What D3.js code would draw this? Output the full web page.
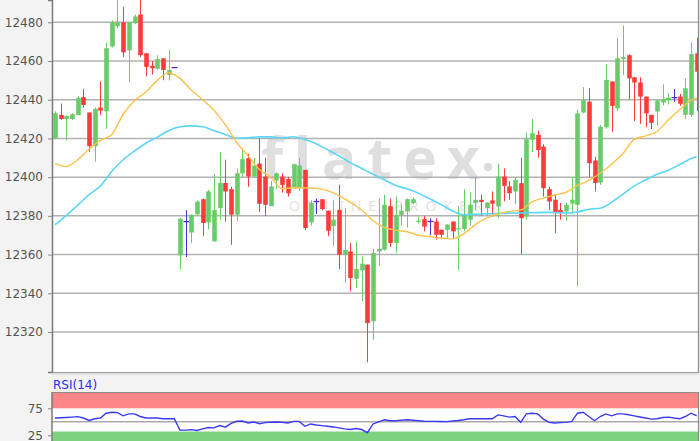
<!DOCTYPE html>
<html><head><meta charset="utf-8">
<script src="https://cdn.jsdelivr.net/npm/d3@7"></script>
<style>html,body{margin:0;padding:0;background:#f3f3f3;overflow:hidden}svg{display:block}</style>
</head><body>
<svg id="c" width="700" height="441"></svg>
<script>
// ---------- data ----------
const opens = [12420,12432.2,12430,12430,12432,12441.3,12433.4,12416,12436,12434,
12467.5,12478,12480,12465.5,12479.5,12484,12464,12457.5,12456,12461.4,
12452.8,12456.6,12359.6,12377,12371.4,12380.8,12388.6,12376.6,12366.8,12384,
12397,12393.8,12380.6,12402,12409.8,12400.3,12407,12400.3,12385,12398.3,
12400.3,12399,12394.3,12394.6,12403.8,12376.6,12387.4,12388.6,12382.6,12374.7,
12383.1,12359.9,12361.6,12347.5,12351.8,12354.8,12325.5,12361.6,12362.5,12385,
12366,12380.5,12382.3,12386.6,12377.1,12378.3,12377.1,12377.1,12372.8,12372.8,
12377.1,12373,12373.2,12378,12386.6,12388.3,12384,12388,12384.9,12400.3,
12395.2,12392.6,12396.9,12379.7,12419.3,12421.8,12415.8,12393.8,12388.3,12383,
12382.3,12386.3,12385.7,12433.4,12439,12408.6,12397.2,12425.8,12449.4,12435.6,
12461,12463,12451.6,12448.9,12441.6,12432.2,12433.9,12438.6,12439.8,12441.1,
12441.6,12432.2,12432.2,12464];
const highs = [12434,12438,12432,12433,12442,12445.5,12433.4,12436,12449.5,12469.5,
12481,12492,12488,12480,12484,12492,12464,12460,12463,12461.4,
12465.7,12456.6,12379,12383,12380.6,12388,12389,12393.5,12401.7,12413,
12409,12395,12404.5,12415,12412,12410,12420,12410,12398,12402.5,
12402,12400,12407,12410,12403.8,12388,12389,12388.6,12382.6,12388,
12396,12384,12366,12366.6,12359,12354.8,12363,12389,12391,12389,
12390,12386,12389,12389.5,12379.7,12380,12378.8,12378.8,12373,12375.5,
12377.1,12385.2,12393.6,12392,12400,12391,12387,12392.6,12407,12404.5,
12398,12400,12410,12423,12430,12424,12417,12395,12391,12386.7,
12387,12400,12435,12446.5,12446,12410.6,12427,12458.4,12449.4,12472,
12478.4,12463.5,12451.6,12451.6,12441.6,12432.2,12440,12448,12443.5,12445.5,
12443,12451,12469.5,12472];
const lows = [12419.5,12429.6,12419,12429.5,12432,12436,12413,12408,12432,12425,
12467,12477,12462,12449,12479,12462,12452,12453,12455.5,12450,
12450,12456.6,12352.5,12358.7,12366,12380,12369.5,12373,12366.8,12378,
12377,12365,12377.5,12400,12395,12400,12382,12380,12385,12394,
12392,12390,12394,12393,12372.5,12375,12381,12383,12369.5,12364.6,
12352.5,12345.5,12341,12342.7,12336,12304.3,12316,12354,12362,12364,
12361,12375,12374,12386,12376,12372,12370,12367.8,12368.5,12368.5,
12368,12352.2,12372,12375,12383,12380,12380,12379.7,12379,12387.5,
12388.3,12386,12360.3,12378,12413,12410,12390,12383,12371,12378,
12377.5,12381,12343.6,12433,12400,12392.6,12396,12425,12423.5,12434,
12452.8,12440.3,12429,12427.5,12425.8,12424.8,12426.5,12437,12437.5,12439,
12436.8,12430,12431,12434.2];
const closes = [12433,12430,12431.5,12432.5,12441,12437.3,12416,12435.3,12434.4,12466.6,
12480,12480.2,12464.5,12480,12483,12463,12457,12456.3,12461,12455.4,
12455.4,12456.6,12378.5,12377,12380.6,12387.4,12376.3,12392.6,12383,12397,
12392.6,12380.6,12402,12409.3,12400.3,12406,12386.2,12385.7,12395.2,12402,
12396,12391.7,12406.7,12406,12373.7,12386.6,12387.4,12383.5,12372.3,12378,
12359.9,12362.4,12347.9,12352.5,12355.3,12324.6,12360.8,12363,12385.7,12366,
12380.5,12382.6,12388.6,12388.6,12377.5,12374.5,12377.1,12370.2,12370.2,12375.5,
12372,12373.6,12380.6,12385.7,12388.3,12387.2,12386.9,12386.3,12400.3,12395.5,
12391.7,12398.6,12378.8,12419.6,12422.7,12414,12394.3,12387.4,12381.4,12381.4,
12385.7,12388.3,12433,12439.8,12407.2,12397,12426.1,12450.2,12436.8,12461.4,
12462,12451,12448.9,12441.6,12433,12428,12439.6,12440.3,12441,12441.1,
12437.9,12445.9,12463.6,12454.5];

// moving averages, sampled at these candle indices
const maIndex = [0,2,4,6,8,10,12,14,16,18,20,22,24,26,28,30,32,34,36,38,40,42,44,46,48,50,52,54,56,58,
60,62,64,66,68,70,72,74,76,78,80,82,84,86,88,90,92,94,96,98,100,102,104,106,108,110,112,113];
const maFast = [12407,12405.5,12409,12414.5,12419,12422,12432.5,12439.5,12444,12450,
12454,12451,12445,12440,12434.5,12427,12418,12411,12404,12400,
12394,12394.5,12394.4,12394.2,12393,12390.5,12387,12383,12377.5,12374,
12372.5,12371.8,12370,12369.3,12368.5,12368.1,12370.8,12375.5,12378.8,12381,
12382.3,12383,12387.2,12389.2,12390.8,12392.2,12395.7,12398.3,12402,12406.7,
12412.2,12419.5,12421.3,12423.6,12429.5,12434.8,12439.7,12440.8];
const maSlow = [12375.3,12380.2,12385.5,12391,12395.5,12403,12409,12413.5,12417.5,12420.7,
12424,12426,12426.5,12426,12424,12422,12420.1,12420.3,12420.8,12420.8,
12420.2,12420.9,12419.5,12417.3,12414.2,12411,12407.5,12404.5,12401.5,12398.7,
12395.7,12394,12391.7,12388.8,12385.8,12382.5,12380.6,12380.8,12381.1,12381.2,
12381.4,12381.5,12381.6,12381.8,12381.7,12381.5,12382,12383.4,12383.9,12387,
12391.2,12395.5,12398.5,12401.5,12403.6,12406.5,12409.6,12410.7];

const rsiValues = [57,57.5,58,58.7,59.5,57,52.5,55.6,57,65.9,
67.7,67,61,64.6,64.6,59.8,57,57,56.9,55.6,
55.6,55.6,34.5,34.5,35.5,34,37,39.5,38.8,43,
40,47,51,51.5,47.8,49.6,46.5,48.5,49.3,49.6,
49,47.8,50.7,50.7,41.7,46,44,43,41.7,40.5,
38.8,37,35.7,37.5,35.7,29.8,46,50,53.8,52,
52,53,53.8,53,52,51,50.7,50.7,50.5,50.4,
51.5,52.5,53.8,55.6,55.6,55.6,55.6,55.6,62.8,61,
58.7,59.8,49,64.6,65.9,64.6,55,49,47.8,48.5,
49,50.7,65.9,67.7,59.8,52,59.8,64.6,61,64.6,
64.6,63,61,59,57,55,55.6,58,58.7,57,
55.6,59.8,65.9,61];

const priceTicks = [12320,12340,12360,12380,12400,12420,12440,12460,12480];
const rsiTickLabels = [75,25];
const rsiMidLine = [50];
const rsiOverbought = [75,110];
const rsiOversold = [0,32];
const rsiTitle = "RSI(14)";
const watermarkMain = "flatex";
const watermarkSub = "ONLINE BROKER";

// ---------- layout ----------
const W = 700, H = 441;
const L = 52, R = 698, T = 0, B = 372;
const RT = 392, RB = 441;
const svg = d3.select("#c");
const font = "'DejaVu Sans', Verdana, sans-serif";

const x = d3.scaleLinear().domain([-0.53, 113.22]).range([L, R]);
const y = d3.scaleLinear().domain([12299.33, 12491.52]).range([B, T]);
const yr = d3.scaleLinear().domain([75, 25]).range([408.3, 435.3]);

svg.append("rect").attr("width", W).attr("height", H).attr("fill", "#f3f3f3");
const defs = svg.append("defs");
defs.append("clipPath").attr("id", "cm").append("rect").attr("x", L).attr("y", T).attr("width", R - L).attr("height", B - T);
defs.append("clipPath").attr("id", "cr").append("rect").attr("x", L).attr("y", RT).attr("width", R - L).attr("height", RB - RT);

// main panel
svg.append("rect").attr("x", L).attr("y", T).attr("width", R - L).attr("height", B - T).attr("fill", "#fff");

// watermark
const wm = svg.append("g").attr("clip-path", "url(#cm)");
wm.append("text").attr("x", 261).attr("y", 179).text(watermarkMain)
  .attr("font-family", "'Noto Sans', sans-serif").attr("font-weight", 700)
  .attr("font-size", 57).attr("letter-spacing", 11).attr("fill", "#dfdfdf");
wm.append("circle").attr("cx", 488).attr("cy", 167).attr("r", 4.2).attr("fill", "#dcdcdc");
wm.append("text").attr("x", 289).attr("y", 211).text(watermarkSub)
  .attr("font-family", "'Noto Sans', sans-serif").attr("font-size", 14)
  .attr("letter-spacing", 7).attr("fill", "#e3e3e3");

// grid + y axis
const grid = svg.append("g");
grid.selectAll("line.g").data(priceTicks).join("line").attr("class", "g")
  .attr("x1", L).attr("x2", R).attr("y1", d => y(d)).attr("y2", d => y(d))
  .attr("stroke", "#b2b2b2").attr("stroke-width", 1.5);
const yAxis = d3.axisLeft(y).tickValues(priceTicks).tickSize(4).tickPadding(5).tickFormat(d3.format("d"));
const ga = svg.append("g").attr("transform", `translate(${L},0)`).call(yAxis);
ga.select(".domain").attr("stroke", "#7a7a7a").attr("stroke-width", 1.5);
ga.selectAll(".tick line").attr("stroke", "#888");
ga.selectAll(".tick text").attr("font-family", font).attr("font-size", 12).attr("fill", "#555");

// candles
const idx = d3.range(opens.length);
const colorOf = i => closes[i] > opens[i] ? "#6acb6a" : (closes[i] < opens[i] ? "#ff3a3a" : "#4a2fd8");
const cg = svg.append("g").attr("clip-path", "url(#cm)");
const bw = 4.6;
idx.forEach(i => {
  const cx = Math.round(x(i)) + 0.5;
  const col = colorOf(i);
  if (highs[i] !== lows[i]) {
    cg.append("line").attr("x1", cx).attr("x2", cx).attr("y1", y(highs[i])).attr("y2", y(lows[i]))
      .attr("stroke", col).attr("stroke-width", 1);
  }
  if (closes[i] === opens[i]) {
    cg.append("line").attr("x1", cx - 3).attr("x2", cx + 3).attr("y1", y(opens[i])).attr("y2", y(opens[i]))
      .attr("stroke", col).attr("stroke-width", 1.3);
  } else {
    const y0 = y(Math.max(opens[i], closes[i])), y1 = y(Math.min(opens[i], closes[i]));
    cg.append("rect").attr("x", cx - bw / 2).attr("y", y0).attr("width", bw).attr("height", Math.max(1.2, y1 - y0))
      .attr("fill", col);
  }
});

// moving averages
const maLine = vals => d3.line().x((d, k) => x(maIndex[k])).y(d => y(d)).curve(d3.curveMonotoneX)(vals);
cg.append("path").attr("d", maLine(maSlow)).attr("fill", "none").attr("stroke", "#5cd6f7").attr("stroke-width", 1.6);
cg.append("path").attr("d", maLine(maFast)).attr("fill", "none").attr("stroke", "#ffc24a").attr("stroke-width", 1.4);

// frame of main panel
svg.append("line").attr("x1", R + 0.5).attr("x2", R + 0.5).attr("y1", T).attr("y2", B).attr("stroke", "#8a8a8a").attr("stroke-width", 1.2);
svg.append("line").attr("x1", L).attr("x2", R + 1).attr("y1", B + 0.5).attr("y2", B + 0.5).attr("stroke", "#9a9a9a").attr("stroke-width", 1);
svg.append("line").attr("x1", L).attr("x2", R + 1).attr("y1", B + 2).attr("y2", B + 2).attr("stroke", "#d4d4d4").attr("stroke-width", 1);

// RSI panel
svg.append("text").attr("x", 53).attr("y", 389).text(rsiTitle)
  .attr("font-family", font).attr("font-size", 12).attr("fill", "#2d2df5");
svg.append("rect").attr("x", L).attr("y", RT).attr("width", R - L).attr("height", RB - RT).attr("fill", "#fff");
const rg = svg.append("g").attr("clip-path", "url(#cr)");
rg.append("rect").attr("x", L).attr("width", R - L)
  .attr("y", yr(rsiOverbought[1])).attr("height", yr(rsiOverbought[0]) - yr(rsiOverbought[1])).attr("fill", "#ff8686");
rg.append("rect").attr("x", L).attr("width", R - L)
  .attr("y", yr(rsiOversold[1])).attr("height", yr(rsiOversold[0]) - yr(rsiOversold[1])).attr("fill", "#7dd37d");
rg.selectAll("line.m").data(rsiMidLine).join("line").attr("class", "m")
  .attr("x1", L).attr("x2", R).attr("y1", d => yr(d)).attr("y2", d => yr(d)).attr("stroke", "#aaa").attr("stroke-width", 1.5);
rg.append("path").attr("d", d3.line().x((d, i) => x(i)).y(d => yr(d))(rsiValues))
  .attr("fill", "none").attr("stroke", "#3a3af2").attr("stroke-width", 1.4);
svg.append("line").attr("x1", L).attr("x2", R + 1).attr("y1", RT + 0.5).attr("y2", RT + 0.5).attr("stroke", "#8c8c8c").attr("stroke-width", 1.2);
svg.append("line").attr("x1", R + 0.5).attr("x2", R + 0.5).attr("y1", RT).attr("y2", RB).attr("stroke", "#8a8a8a").attr("stroke-width", 1.2);
const rAxis = d3.axisLeft(yr).tickValues(rsiTickLabels).tickSize(4).tickPadding(5);
const gr = svg.append("g").attr("transform", `translate(${L},0)`).call(rAxis);
gr.select(".domain").attr("d", `M0,${RT}V${RB}`).attr("stroke", "#7a7a7a").attr("stroke-width", 1.5);
gr.selectAll(".tick line").attr("stroke", "#888");
gr.selectAll(".tick text").attr("font-family", font).attr("font-size", 12).attr("fill", "#555");
</script>
</body></html>
